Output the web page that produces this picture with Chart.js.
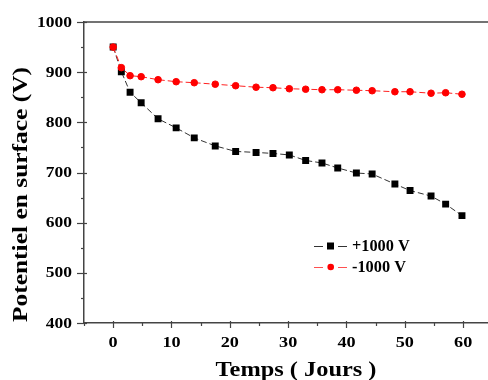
<!DOCTYPE html>
<html>
<head>
<meta charset="utf-8">
<script src="https://cdn.jsdelivr.net/npm/chart.js@4/dist/chart.umd.min.js"></script>
<style>
html,body{margin:0;padding:0;background:#fff;overflow:hidden;width:488px;height:380px;}
canvas{display:block;}
</style>
</head>
<body>
<canvas id="c" width="500" height="380"></canvas>
<script>
const days = [0, 1.4, 2.9, 4.8, 7.7, 10.8, 13.9, 17.5, 21, 24.5, 27.4, 30.2, 33, 35.8, 38.5, 41.7, 44.4, 48.3, 50.9, 54.5, 57, 59.8];
const posValues = [950, 901, 860, 839, 807, 789, 769, 753, 742, 740, 738, 735, 724, 719, 709, 699, 697, 677, 664, 653, 637, 614];
const negValues = [950, 909, 893, 891, 885, 881, 879, 876, 873, 870, 869, 867, 866, 865, 865, 864, 863, 861, 861, 858, 859, 856];
const seriesLabels = ['+1000 V', '-1000 V'];
const xTickLabels = [0, 10, 20, 30, 40, 50, 60];
const yTickLabels = [400, 500, 600, 700, 800, 900, 1000];
const xTitle = 'Temps ( Jours )';
const yTitle = 'Potentiel en surface (V)';

const FONT = '"Liberation Serif", "Times New Roman", serif';

function stretchText(ctx, text, x, y, size, sx, align, baseline, rot) {
  ctx.save();
  ctx.font = 'bold ' + size + 'px ' + FONT;
  ctx.fillStyle = '#000';
  ctx.textBaseline = baseline;
  ctx.translate(x, y);
  if (rot) ctx.rotate(rot);
  ctx.scale(sx, 1);
  ctx.textAlign = align;
  ctx.fillText(text, 0, 0);
  ctx.restore();
}

const decor = {
  id: 'decor',
  afterDraw(chart) {
    const ctx = chart.ctx;
    const xs = chart.scales.x, ys = chart.scales.y;
    const area = chart.chartArea;
    ctx.save();
    ctx.strokeStyle = '#444';
    ctx.lineWidth = 1.5;
    ctx.beginPath();
    ctx.moveTo(area.left, area.top);
    ctx.lineTo(area.right, area.top);
    ctx.stroke();
    ctx.lineWidth = 1.2;
    for (let v = -5; v <= 65; v += 5) {
      const px = Math.round(xs.getPixelForValue(v)) + 0.5;
      const major = v % 10 === 0;
      ctx.beginPath();
      ctx.moveTo(px, area.bottom - (major ? 2 : 0));
      ctx.lineTo(px, area.bottom + (major ? 5 : 3));
      ctx.stroke();
    }
    for (let v = 400; v <= 1000; v += 50) {
      const py = Math.round(ys.getPixelForValue(v)) + 0.5;
      const major = v % 100 === 0;
      ctx.beginPath();
      ctx.moveTo(area.left - (major ? 7 : 3), py);
      ctx.lineTo(area.left + (major ? 3 : 0), py);
      ctx.stroke();
    }
    ctx.restore();

    xTickLabels.forEach(v => {
      stretchText(ctx, String(v), xs.getPixelForValue(v), 347, 14, 1.3, 'center', 'alphabetic');
    });
    yTickLabels.forEach(v => {
      stretchText(ctx, String(v), 72, ys.getPixelForValue(v) + 1, 14, 1.25, 'right', 'middle');
    });
    stretchText(ctx, xTitle, 296, 375.5, 21, 1.16, 'center', 'alphabetic');
    stretchText(ctx, yTitle, 26.5, 194.5, 22, 1.157, 'center', 'alphabetic', -Math.PI / 2);

    const rows = [
      {label: seriesLabels[0], y: 246, color: '#000', line: '#333', style: 'rect'},
      {label: seriesLabels[1], y: 267, color: '#ff0000', line: '#ff5050', style: 'circle'}
    ];
    rows.forEach(r => {
      ctx.save();
      ctx.strokeStyle = r.line;
      ctx.lineWidth = 1.2;
      ctx.beginPath();
      ctx.moveTo(314, r.y + 0.5); ctx.lineTo(323, r.y + 0.5);
      ctx.moveTo(338, r.y + 0.5); ctx.lineTo(347, r.y + 0.5);
      ctx.stroke();
      ctx.fillStyle = r.color;
      if (r.style === 'rect') {
        ctx.fillRect(327, r.y - 3.5, 7, 7);
      } else {
        ctx.beginPath(); ctx.arc(330.7, r.y, 3.3, 0, Math.PI * 2); ctx.fill();
      }
      ctx.restore();
      stretchText(ctx, r.label, 352, r.y + 4.5, 16, 1.02, 'left', 'alphabetic');
    });
  }
};

const toPts = vals => days.map((d, i) => ({x: d, y: vals[i]}));

new Chart(document.getElementById('c'), {
  type: 'line',
  data: {
    datasets: [
      {
        label: seriesLabels[1],
        data: toPts(negValues),
        borderColor: '#ff2020',
        backgroundColor: '#ff0000',
        pointBackgroundColor: '#ff0000',
        pointBorderColor: '#ff0000',
        pointStyle: 'circle',
        pointRadius: 3.3,
        pointBorderWidth: 1,
        borderWidth: 1,
        borderDash: [6, 3],
        tension: 0
      },
      {
        label: seriesLabels[0],
        data: toPts(posValues),
        borderColor: '#333',
        backgroundColor: '#000',
        pointBackgroundColor: '#000',
        pointBorderColor: '#000',
        pointStyle: 'rect',
        pointRadius: 4.9,
        pointBorderWidth: 0,
        borderWidth: 1,
        borderDash: [6, 3],
        tension: 0
      }
    ]
  },
  options: {
    responsive: false,
    animation: false,
    events: [],
    layout: {padding: {left: 0, top: 22, right: 7.7, bottom: 0}},
    plugins: {legend: {display: false}, tooltip: {enabled: false}},
    scales: {
      x: {
        type: 'linear',
        min: -5, max: 65,
        ticks: {display: false, stepSize: 5},
        grid: {display: false, drawTicks: false},
        border: {display: true, color: '#444', width: 1.5},
        afterFit(s) { s.height = 57; }
      },
      y: {
        type: 'linear',
        min: 400, max: 1000,
        ticks: {display: false, stepSize: 50},
        grid: {display: false, drawTicks: false},
        border: {display: true, color: '#444', width: 1.5},
        afterFit(s) { s.width = 84; }
      }
    }
  },
  plugins: [decor]
});
</script>
</body>
</html>
